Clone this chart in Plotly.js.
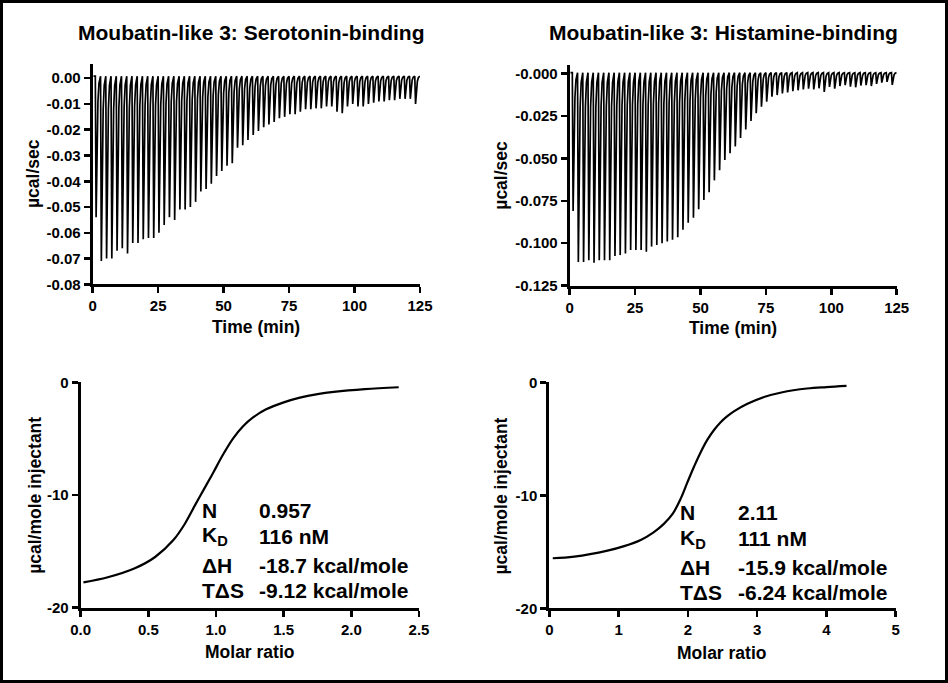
<!DOCTYPE html>
<html>
<head>
<meta charset="utf-8">
<script src="https://cdn.plot.ly/plotly-3.0.1.min.js"></script>
<style>
html,body{margin:0;padding:0;background:#fff;}
#chart{width:948px;height:683px;}
</style>
</head>
<body>
<div id="chart"></div>
<script>
// ---------- DATA ----------
const titles = ["Moubatin-like 3: Serotonin-binding", "Moubatin-like 3: Histamine-binding"];

// injection times (min)
const injTimes = [1,3,5,7,9,11,13,15,17,19,21,23,25,27,29,31,33,35,37,39,41,43,45,47,49,51,53,55,57,59,
  61,63,65,67,69,71,73,75,77,79,81,83,85,87,89,91,93,95,97,99,101,103,105,107,109,111,113,115,117,119,121,123];

// peak depth of each injection (µcal/sec), serotonin
const peaksSer = [-0.054,-0.071,-0.070,-0.070,-0.067,-0.066,-0.068,-0.064,-0.064,-0.0625,
  -0.062,-0.062,-0.060,-0.057,-0.054,-0.055,-0.051,-0.051,-0.050,-0.048,
  -0.044,-0.043,-0.041,-0.038,-0.036,-0.034,-0.033,-0.027,-0.026,-0.024,
  -0.022,-0.0205,-0.019,-0.018,-0.017,-0.0155,-0.015,-0.014,-0.014,-0.013,
  -0.012,-0.012,-0.0117,-0.0117,-0.011,-0.011,-0.013,-0.0136,-0.011,-0.010,
  -0.011,-0.011,-0.010,-0.0095,-0.009,-0.009,-0.0085,-0.0085,-0.008,-0.008,
  -0.008,-0.010];

// peak depth of each injection (µcal/sec), histamine
const peaksHis = [-0.081,-0.111,-0.111,-0.110,-0.1115,-0.110,-0.110,-0.110,-0.1075,-0.107,
  -0.106,-0.104,-0.104,-0.104,-0.105,-0.102,-0.101,-0.100,-0.099,-0.098,
  -0.0965,-0.092,-0.088,-0.085,-0.080,-0.0745,-0.070,-0.063,-0.057,-0.051,
  -0.047,-0.043,-0.038,-0.033,-0.028,-0.0235,-0.0196,-0.0167,-0.0137,-0.0128,
  -0.0118,-0.0112,-0.0105,-0.0100,-0.0095,-0.0090,-0.0095,-0.0088,-0.0110,-0.0080,
  -0.0090,-0.0075,-0.0070,-0.0078,-0.0082,-0.0072,-0.0070,-0.0075,-0.0062,-0.0055,
  -0.0050,-0.0068];

// baseline levels (µcal/sec)
const baseSer = 0.0008;
const baseHis = 0.0004;

// shape of one injection peak: time offsets (min) and fraction of depth
const peakOffsets = [0, 0.3, 0.6, 1.0, 1.4, 1.9];
const peakFractions = [0, 1, 0.5, 0.18, 0.05, 0];

// fitted binding isotherms
const molarSer = [0.02,0.2,0.4,0.55,0.685,0.77,0.845,0.91,0.98,1.05,1.128,1.2,1.276,1.37,1.5,1.62,1.75,1.87,2.1,2.35];
const heatSer  = [-17.75,-17.3,-16.5,-15.5,-14.0,-12.55,-10.9,-9.5,-8.0,-6.45,-4.95,-3.9,-3.1,-2.4,-1.78,-1.36,-1.05,-0.85,-0.6,-0.44];
const molarHis = [0.05,0.36,0.84,1.08,1.32,1.5,1.65,1.78,1.9,1.99,2.09,2.18,2.28,2.38,2.47,2.57,2.67,2.86,3.1,3.35,3.72,4.0,4.29];
const heatHis  = [-15.57,-15.43,-14.9,-14.5,-13.95,-13.3,-12.55,-11.65,-10.25,-8.9,-7.45,-6.25,-5.1,-4.2,-3.55,-3.0,-2.55,-1.9,-1.3,-0.9,-0.55,-0.42,-0.32];

// fit parameters
const paramLabels = ["N", "K<sub>D</sub>", "ΔH", "TΔS"];
const paramsSer = ["0.957", "116 nM", "-18.7 kcal/mole", "-9.12 kcal/mole"];
const paramsHis = ["2.11", "111 nM", "-15.9 kcal/mole", "-6.24 kcal/mole"];

// tick labels
const rawTickValsSer = [0,-0.01,-0.02,-0.03,-0.04,-0.05,-0.06,-0.07,-0.08];
const rawTickTextSer = ["0.00","-0.01","-0.02","-0.03","-0.04","-0.05","-0.06","-0.07","-0.08"];
const rawTickValsHis = [0,-0.025,-0.05,-0.075,-0.1,-0.125];
const rawTickTextHis = ["-0.000","-0.025","-0.050","-0.075","-0.100","-0.125"];
const timeTicks = [0,25,50,75,100,125];
const timeTickText = ["0","25","50","75","100","125"];
const heatTicks = [0,-10,-20];
const heatTickText = ["0","-10","-20"];
const molarTicksSer = [0,0.5,1,1.5,2,2.5];
const molarTickTextSer = ["0.0","0.5","1.0","1.5","2.0","2.5"];
const molarTicksHis = [0,1,2,3,4,5];
const molarTickTextHis = ["0","1","2","3","4","5"];

// ---------- BUILD ----------
function buildTrace(times, peaks, base) {
  const x = [0.3], y = [base];
  for (let i = 0; i < times.length; i++) {
    for (let k = 0; k < peakOffsets.length; k++) {
      x.push(times[i] + peakOffsets[k]);
      y.push(base + (peaks[i] - base) * peakFractions[k]);
    }
  }
  x.push(125); y.push(base);
  return {x, y};
}
const W = 948, H = 683;
const px = v => v / W;
const py = v => 1 - v / H;

const FONT = "Liberation Sans, Arial, Helvetica, sans-serif";
const tSer = buildTrace(injTimes, peaksSer, baseSer);
const tHis = buildTrace(injTimes, peaksHis, baseHis);

const data = [
  {x: tSer.x, y: tSer.y, xaxis: 'x', yaxis: 'y', mode: 'lines', line: {color: '#000', width: 1.7}, hoverinfo: 'skip'},
  {x: tHis.x, y: tHis.y, xaxis: 'x2', yaxis: 'y2', mode: 'lines', line: {color: '#000', width: 1.7}, hoverinfo: 'skip'},
  {x: molarSer, y: heatSer, xaxis: 'x3', yaxis: 'y3', mode: 'lines', line: {color: '#000', width: 2.2, shape: 'spline', smoothing: 1}},
  {x: molarHis, y: heatHis, xaxis: 'x4', yaxis: 'y4', mode: 'lines', line: {color: '#000', width: 2.2, shape: 'spline', smoothing: 1}}
];

const tickFont = {family: FONT, size: 15, color: '#000', weight: 700};
function ax(extra) {
  return Object.assign({
    showline: true, linecolor: '#000', linewidth: 3, showgrid: false, zeroline: false,
    ticks: 'outside', ticklen: 6, tickwidth: 2.5, tickcolor: '#000', tickfont: tickFont,
    tickmode: 'array', fixedrange: true
  }, extra);
}

const layout = {
  width: W, height: H, margin: {l: 0, r: 0, t: 0, b: 0},
  paper_bgcolor: '#fff', plot_bgcolor: '#fff', showlegend: false,
  font: {family: FONT, color: '#000'},
  xaxis:  ax({domain: [px(92.7), px(420)], range: [0,125], anchor: 'y', tickvals: timeTicks, ticktext: timeTickText}),
  yaxis:  ax({domain: [py(284.3), py(64.3)], range: [-0.08, 0.0054], anchor: 'x', tickvals: rawTickValsSer, ticktext: rawTickTextSer}),
  xaxis2: ax({domain: [px(569.7), px(896.7)], range: [0,125], anchor: 'y2', tickvals: timeTicks, ticktext: timeTickText}),
  yaxis2: ax({domain: [py(285.7), py(65)], range: [-0.125, 0.0049], anchor: 'x2', tickvals: rawTickValsHis, ticktext: rawTickTextHis}),
  xaxis3: ax({domain: [px(80.7), px(419)], range: [0,2.5], anchor: 'y3', tickvals: molarTicksSer, ticktext: molarTickTextSer}),
  yaxis3: ax({domain: [py(607.7), py(382.3)], range: [-20, 0], anchor: 'x3', tickvals: heatTicks, ticktext: heatTickText}),
  xaxis4: ax({domain: [px(549.3), px(895.7)], range: [0,5], anchor: 'y4', tickvals: molarTicksHis, ticktext: molarTickTextHis}),
  yaxis4: ax({domain: [py(608.3), py(382.3)], range: [-20, 0], anchor: 'x4', tickvals: heatTicks, ticktext: heatTickText}),
  shapes: [
    {type: 'rect', xref: 'paper', yref: 'paper', x0: 0, x1: 1, y0: 0, y1: 1, line: {color: '#000', width: 6}, fillcolor: 'rgba(0,0,0,0)'}
  ],
  annotations: []
};

function ann(text, x, y, size, opts) {
  layout.annotations.push(Object.assign({
    text: text, xref: 'paper', yref: 'paper', x: px(x), y: py(y), showarrow: false,
    xanchor: 'center', yanchor: 'middle',
    font: {family: FONT, size: size, color: '#000', weight: 700}
  }, opts || {}));
}
// titles
ann(titles[0], 251, 32.5, 21);
ann(titles[1], 723.5, 32.5, 21);
// axis titles
ann("Time (min)", 256, 326.5, 17.5);
ann("Time (min)", 733, 327.5, 17.5);
ann("µcal/sec", 33, 174, 17.5, {textangle: -90});
ann("µcal/sec", 500.7, 175, 17.5, {textangle: -90});
ann("µcal/mole injectant", 35, 495.8, 17.5, {textangle: -90});
ann("µcal/mole injectant", 500.7, 495.8, 17.5, {textangle: -90});
ann("Molar ratio", 249, 651.7, 17.5);
ann("Molar ratio", 721.5, 653.3, 17.5);
// fit parameters
const rowsSer = [510.3, 536.3, 565.3, 590];
const rowsHis = [512.8, 538.7, 567, 592.8];
for (let i = 0; i < paramLabels.length; i++) {
  ann(paramLabels[i], 200, rowsSer[i], 21, {xanchor: 'left'});
  ann(paramsSer[i], 256.7, rowsSer[i], 21, {xanchor: 'left'});
  ann(paramLabels[i], 678, rowsHis[i], 21, {xanchor: 'left'});
  ann(paramsHis[i], 735.7, rowsHis[i], 21, {xanchor: 'left'});
}

Plotly.newPlot('chart', data, layout, {displayModeBar: false, staticPlot: true});
</script>
</body>
</html>
